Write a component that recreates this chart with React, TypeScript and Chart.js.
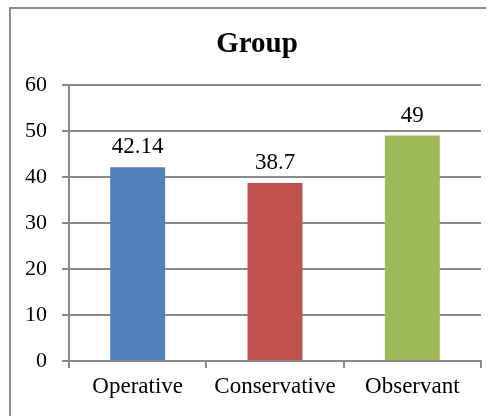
import React, { useEffect, useRef } from "react";
import { Chart, registerables } from "chart.js";

Chart.register(...registerables);

const categories = ["Operative", "Conservative", "Observant"];
const values = [42.14, 38.7, 49];
const barColors = ["#4F81BD", "#C0504D", "#9BBB59"];
const titleText = "Group";
const yMin = 0;
const yMax = 60;
const yStep = 10;

const FONT = "'Liberation Serif', 'Times New Roman', serif";
const GRID = "#8a8a8a";
const FRAME = "#8c8c8c";

// Canvas sits inside the frame's left/top border
const CANVAS_W = 471;
const CANVAS_H = 407;

// Centered bold title above the plot
const titlePlugin = {
  id: "groupTitle",
  afterDraw(chart: any) {
    const ctx = chart.ctx;
    ctx.save();
    ctx.font = `bold 29px ${FONT}`;
    ctx.fillStyle = "#000";
    ctx.textAlign = "center";
    ctx.textBaseline = "alphabetic";
    ctx.fillText(titleText, 246, 43);
    ctx.restore();
  },
};

// Value labels above each bar
const valueLabels = {
  id: "valueLabels",
  afterDatasetsDraw(chart: any) {
    const ctx = chart.ctx;
    const meta = chart.getDatasetMeta(0);
    ctx.save();
    ctx.font = `23px ${FONT}`;
    ctx.fillStyle = "#000";
    ctx.textAlign = "center";
    ctx.textBaseline = "alphabetic";
    meta.data.forEach((bar: any, i: number) => {
      ctx.fillText(String(values[i]), bar.x, bar.y - 14);
    });
    ctx.restore();
  },
};

export default function App() {
  const ref = useRef<HTMLCanvasElement | null>(null);

  useEffect(() => {
    if (!ref.current) return;
    const chart = new Chart(ref.current, {
      type: "bar",
      data: {
        labels: categories,
        datasets: [
          {
            data: values,
            backgroundColor: barColors,
            borderWidth: 0,
            categoryPercentage: 1,
            barPercentage: 0.4,
          },
        ],
      },
      options: {
        responsive: false,
        animation: false,
        layout: { padding: { top: 76, right: 1, bottom: 0, left: 0 } },
        plugins: {
          legend: { display: false },
          title: { display: false },
          tooltip: { enabled: false },
        },
        scales: {
          x: {
            grid: {
              display: true,
              drawOnChartArea: false,
              drawTicks: true,
              tickLength: 7,
              color: GRID,
              lineWidth: 2,
            },
            border: { display: true, color: GRID, width: 2 },
            ticks: {
              color: "#000",
              font: { family: FONT, size: 23 },
              padding: 5,
              maxRotation: 0,
            },
            afterFit(scale: any) {
              scale.height = 55;
            },
          },
          y: {
            min: yMin,
            max: yMax,
            grid: {
              color: GRID,
              lineWidth: 2,
              drawTicks: true,
              tickLength: 7,
            },
            border: { display: true, color: GRID, width: 2 },
            ticks: {
              stepSize: yStep,
              color: "#000",
              font: { family: FONT, size: 22 },
              padding: 15,
            },
            afterFit(scale: any) {
              scale.width = 58;
            },
          },
        },
      },
      plugins: [titlePlugin, valueLabels],
    });
    return () => chart.destroy();
  }, []);

  return (
    <div
      style={{
        position: "fixed",
        left: 0,
        top: 0,
        width: 486,
        height: 416,
        overflow: "hidden",
        background: "#fff",
      }}
    >
      <div
        style={{
          position: "absolute",
          left: 9,
          top: 7,
          right: 0,
          bottom: 0,
          borderLeft: `2px solid ${FRAME}`,
          borderTop: `2px solid ${FRAME}`,
        }}
      >
        <canvas
          ref={ref}
          width={CANVAS_W}
          height={CANVAS_H}
          style={{ display: "block", width: CANVAS_W, height: CANVAS_H }}
        />
      </div>
    </div>
  );
}
